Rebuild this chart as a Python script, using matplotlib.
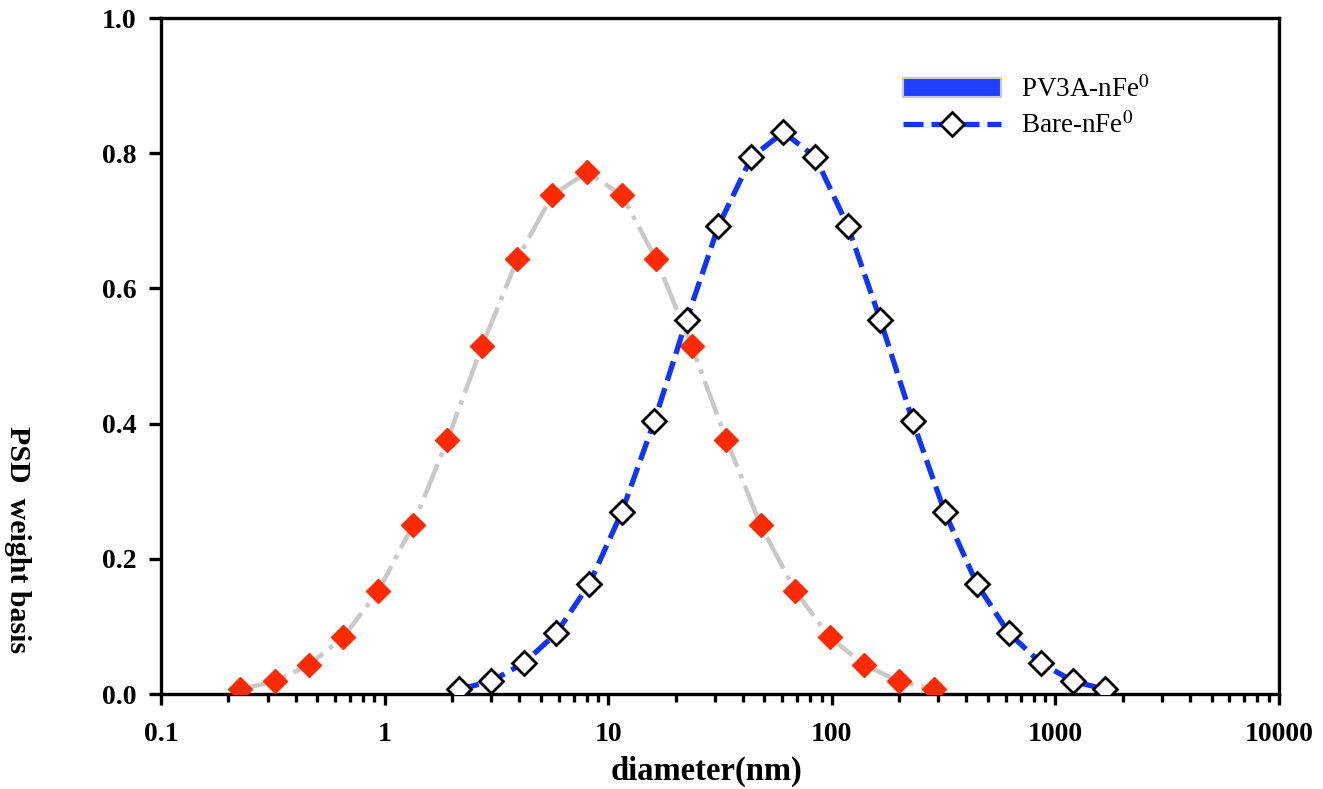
import matplotlib
matplotlib.use("Agg")
import matplotlib.pyplot as plt
from matplotlib.patches import Patch
from matplotlib.lines import Line2D
from matplotlib.ticker import FixedLocator, LogLocator, NullFormatter

plt.rcParams['font.family'] = ['Liberation Serif', 'DejaVu Serif']
plt.rcParams['mathtext.fontset'] = 'stix'

# PV3A-nFe0 (red diamonds, grey dash-dot)
d_pv3a = [0.226, 0.324, 0.459, 0.653, 0.936, 1.34, 1.91, 2.73, 3.92, 5.62, 8.07,
          11.5, 16.4, 23.6, 33.8, 48.0, 68.8, 97.7, 140, 199, 286]
psd_pv3a = [0.007, 0.019, 0.043, 0.084, 0.152, 0.250, 0.376, 0.515, 0.643, 0.738, 0.772,
            0.738, 0.643, 0.515, 0.376, 0.250, 0.152, 0.084, 0.043, 0.019, 0.007]

# Bare-nFe0 (white diamonds, blue dashed)
d_bare = [2.16, 3.00, 4.21, 5.86, 8.24, 11.5, 16.1, 22.4, 31.1, 43.7, 60.8,
          84.5, 118, 165, 230, 320, 445, 619, 861, 1197, 1663]
psd_bare = [0.007, 0.019, 0.046, 0.090, 0.163, 0.269, 0.404, 0.553, 0.692, 0.794, 0.831,
            0.794, 0.692, 0.553, 0.404, 0.269, 0.163, 0.090, 0.046, 0.019, 0.007]

xticks = [0.1, 1, 10, 100, 1000, 10000]
xticklabels = ['0.1', '1', '10', '100', '1000', '10000']
yticks = [0.0, 0.2, 0.4, 0.6, 0.8, 1.0]
yticklabels = ['0.0', '0.2', '0.4', '0.6', '0.8', '1.0']

fig = plt.figure(figsize=(13.23, 7.89), dpi=100)
ax = fig.add_axes([161/1323, 95/789, (1279-161)/1323, (694-18)/789])

ax.plot(d_pv3a, psd_pv3a, color='#c8c8c8', lw=3.2, ls=(0, (8, 1.8, 1, 1.8)),
        marker='D', ms=12.5, mfc='#ff2a00', mec='#ff2a00', zorder=3)
ax.plot(d_bare, psd_bare, color='#1034ff', lw=3.8, ls=(0, (3.8, 1.5)),
        marker='D', ms=12, mfc='white', mec='black', mew=2, zorder=4)

ax.set_xscale('log')
ax.set_xlim(0.1, 10000)
ax.set_ylim(0, 1.0)
ax.xaxis.set_major_locator(FixedLocator(xticks))
ax.set_xticklabels(xticklabels)
ax.xaxis.set_minor_locator(LogLocator(base=10, subs=range(2, 10)))
ax.xaxis.set_minor_formatter(NullFormatter())
ax.set_yticks(yticks)
ax.set_yticklabels(yticklabels)

for s in ax.spines.values():
    s.set_linewidth(2.4)
ax.tick_params(axis='x', which='major', direction='out', length=8, width=2.4, pad=12,
               labelsize=20)
ax.tick_params(axis='x', which='minor', direction='out', length=5.5, width=2.4)
ax.tick_params(axis='y', which='major', direction='out', length=8.5, width=2.4, pad=9,
               labelsize=20)
for lab in ax.get_xticklabels() + ax.get_yticklabels():
    lab.set_fontweight('bold')

fig.text(706/1323, 1 - 771/789, 'diameter(nm)', ha='center', va='center',
         fontsize=23.5, fontweight='bold')
fig.text(17/1323, 1 - 540/789, 'PSD  weight basis', ha='center', va='center',
         rotation=270, fontsize=21.5, fontweight='bold')

handles = [Patch(facecolor='#2040ff', edgecolor='#c8c8d8', lw=1.5),
           Line2D([], [], color='#1034ff', lw=3.8, ls=(0, (3.8, 1.5)), marker='D', ms=12,
                  mfc='white', mec='black', mew=2)]
ax.legend(handles, [r'PV3A-nFe$^0$', r'Bare-nFe$^0$'], loc='upper left',
          bbox_to_anchor=(718/1118, 0.95), frameon=False, fontsize=19.5,
          handlelength=3.6, handleheight=0.7, handletextpad=0.75, labelspacing=0.35)

fig.savefig('out.png', dpi=100)
